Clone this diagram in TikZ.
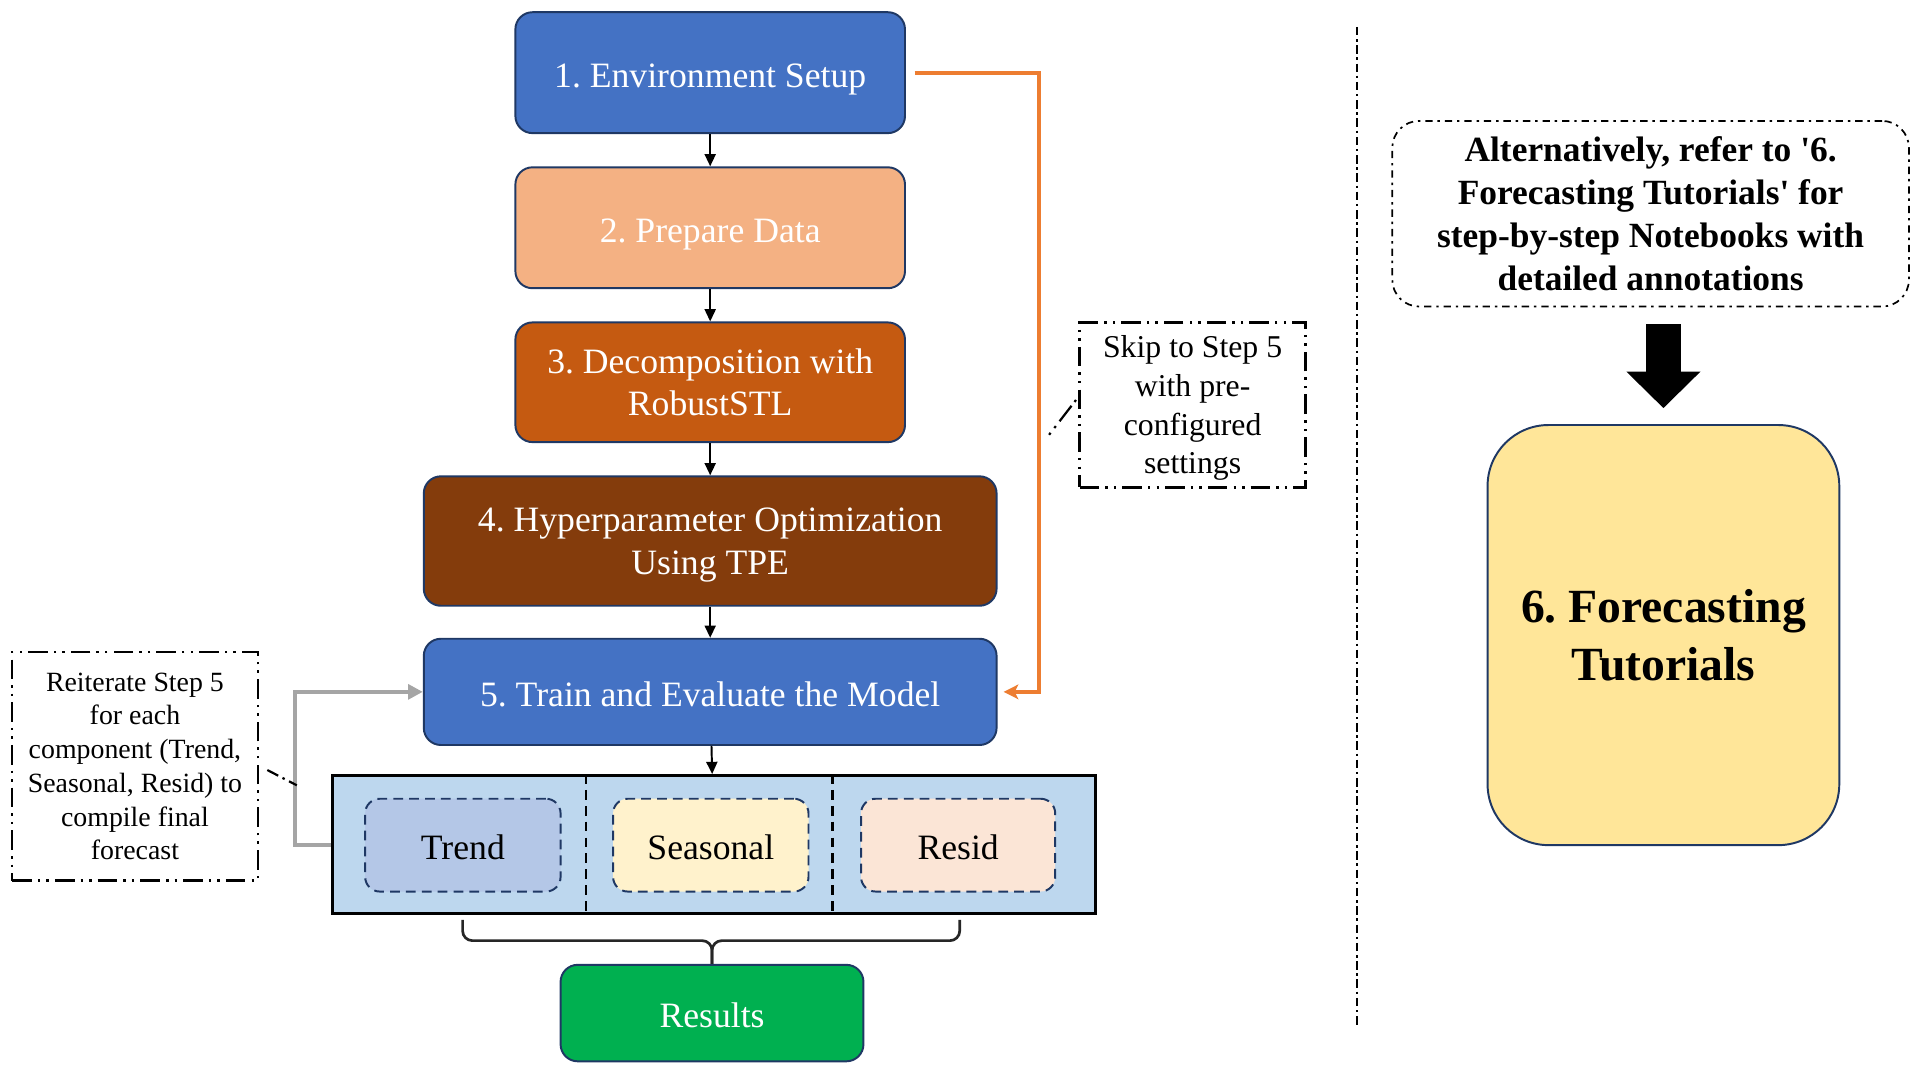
\documentclass[tikz,border=0pt]{standalone}
\usepackage{fontspec}
\setmainfont{Liberation Serif}
\usetikzlibrary{arrows.meta,calc}
\definecolor{navy}{HTML}{1F3864}
\definecolor{cone}{HTML}{4472C4}
\definecolor{ctwo}{HTML}{F4B183}
\definecolor{cthree}{HTML}{C55A11}
\definecolor{cfour}{HTML}{843C0C}
\definecolor{cres}{HTML}{00B050}
\definecolor{ccont}{HTML}{BDD7EE}
\definecolor{ctrend}{HTML}{B4C7E7}
\definecolor{cseas}{HTML}{FFF2CC}
\definecolor{cresid}{HTML}{FBE5D6}
\definecolor{cfc}{HTML}{FFE699}
\definecolor{corange}{HTML}{ED7D31}
\definecolor{cgray}{HTML}{A5A5A5}
\frenchspacing
\begin{document}
\begin{tikzpicture}[x=0.5pt,y=-0.5pt,
  stepbox/.style={draw=navy, line width=0.8pt, rounded corners=7pt, text=white,
    font=\fontsize{14.6}{17.5}\selectfont, align=center, inner sep=0pt},
  singleline/.style={text height=12pt, text depth=0pt},
  compbox/.style={draw=navy, line width=0.8pt, dash pattern=on 4pt off 2.5pt,
    rounded corners=6pt, minimum height=38pt, inner sep=0pt, singleline,
    font=\fontsize{14.6}{17.5}\selectfont, text=black},
  flowarrow/.style={-{Triangle[length=5pt,width=4.5pt]}, line width=0.8pt},
  notebox/.style={draw=black, align=center, inner sep=0pt},
  dashdotdot/.style={dash pattern=on 8pt off 2.5pt on 1pt off 2.5pt on 1pt off 2.5pt},
  dashdotA/.style={dash pattern=on 5pt off 2pt on 1pt off 2pt},
  dashdotB/.style={dash pattern=on 3pt off 2pt on 1pt off 2pt},
]
\useasboundingbox (0,0) rectangle (1568,877);

% main steps
\node[stepbox, singleline, fill=cone, minimum width=159.5pt, minimum height=49.5pt] (s1) at (581.5,59.5) {1. Environment Setup};
\node[stepbox, singleline, fill=ctwo, minimum width=159.5pt, minimum height=49.5pt] (s2) at (581.5,186.5) {2. Prepare Data};
\node[stepbox, fill=cthree, minimum width=159.5pt, minimum height=49pt] (s3) at (581.5,313) {3. Decomposition with\\RobustSTL};
\node[stepbox, text depth=0pt, fill=cfour, minimum width=234.5pt, minimum height=53pt] (s4) at (581.5,443) {4. Hyperparameter Optimization\\Using TPE};
\node[stepbox, singleline, fill=cone, minimum width=234.5pt, minimum height=43.5pt] (s5) at (581.5,566.5) {5. Train and Evaluate the Model};

% container with components
\node[draw=black, line width=1.2pt, fill=ccont, minimum width=312.5pt, minimum height=56.5pt, inner sep=0pt] (cont) at (584.5,691.5) {};
\draw[line width=1pt, dash pattern=on 4pt off 2.5pt] ($(cont.north west)+(209,0)$) -- ($(cont.south west)+(209,0)$);
\draw[line width=1pt, dash pattern=on 4pt off 2.5pt] ($(cont.north west)+(411,0)$) -- ($(cont.south west)+(411,0)$);
\node[compbox, fill=ctrend, minimum width=80pt] (trend) at (379,692) {Trend};
\node[compbox, fill=cseas, minimum width=80pt] (seas) at (582,692) {Seasonal};
\node[compbox, fill=cresid, minimum width=79.5pt] (resid) at (784.5,692) {Resid};

% results
\node[stepbox, singleline, fill=cres, minimum width=124pt, minimum height=39.5pt] (res) at (583,829.5) {Results};

% flow arrows
\draw[flowarrow] (s1) -- (s2);
\draw[flowarrow] (s2) -- (s3);
\draw[flowarrow] (s3) -- (s4);
\draw[flowarrow] (s4) -- (s5);
\draw[flowarrow] (s5) -- (cont);

% brace to results
\coordinate (bl) at ($(cont.south west)+(108,4)$);
\coordinate (br) at ($(cont.south west)+(515,4)$);
\coordinate (bm) at ($(res.north)+(0,-19)$);
\draw[line width=1.1pt, color=black!85, rounded corners=4pt] (bl) |- (bm) -- (res.north);
\draw[line width=1.1pt, color=black!85, rounded corners=4pt] (br) |- (bm) -- (res.north);

% orange skip connector
\draw[corange, line width=1.6pt, -{Stealth[length=6pt,width=6pt,inset=1.5pt]}]
  ([xshift=3.5pt]s1.east) -- ++(102,0) |- ([xshift=2.5pt]s5.east);

% gray loop connector
\draw[cgray, line width=1.65pt, -{Triangle[length=6pt,width=6pt]}]
  (cont.west) -- ++(-29,0) |- (s5.west);

% left note
\node[notebox, line width=0.9pt, dashdotdot, minimum width=100.5pt, minimum height=93.5pt,
  font=\fontsize{11.4}{13.8}\selectfont] (lnote) at (110.5,627.5)
  {Reiterate Step 5\\for each\\component (Trend,\\Seasonal, Resid) to\\compile final\\forecast};
\coordinate (glpt) at (243,643);
\draw[line width=0.9pt, dashdotA] ($(lnote.east)+(7,3)$) -- (glpt);

% skip note
\node[notebox, line width=1.05pt, dashdotdot, text depth=0pt, minimum width=92.5pt, minimum height=67.5pt,
  font=\fontsize{13}{15.8}\selectfont] (snote) at (976.5,331.5)
  {Skip to Step 5\\with pre-\\configured\\settings};
\coordinate (olpt) at (859,356);
\draw[line width=0.9pt, dash pattern=on 1pt off 2.5pt on 1pt off 2.5pt on 8pt off 2pt] (olpt) -- ([yshift=3.25pt]snote.west);

% divider
\coordinate (dtop) at (1111,22);
\coordinate (dbot) at (1111,840);
\draw[line width=0.85pt, dash pattern=on 3.5pt off 1.5pt on 1pt off 1.5pt] (dtop) -- (dbot);

% right note
\node[notebox, line width=0.7pt, dashdotB, rounded corners=11pt, minimum width=211.5pt, minimum height=76pt,
  font=\bfseries\fontsize{14.5}{17.5}\selectfont] (rnote) at (1351.5,175)
  {Alternatively, refer to \textquotesingle 6.\\Forecasting Tutorials\textquotesingle{} for\\step-by-step Notebooks with\\detailed annotations};

% forecasting tutorials box
\node[draw=navy, line width=0.8pt, fill=cfc, rounded corners=25pt, minimum width=144pt, minimum height=172pt,
  align=center, inner sep=0pt, font=\bfseries\fontsize{19.5}{24}\selectfont] (fc) at (1362,520)
  {6. Forecasting\\Tutorials};

% big arrow
\draw[line width=14pt, -{Triangle[length=15pt,width=29.5pt]}]
  ($(rnote.south -| fc.north)+(0,14)$) -- ($(fc.north)+(0,-13)$);
\end{tikzpicture}
\end{document}
